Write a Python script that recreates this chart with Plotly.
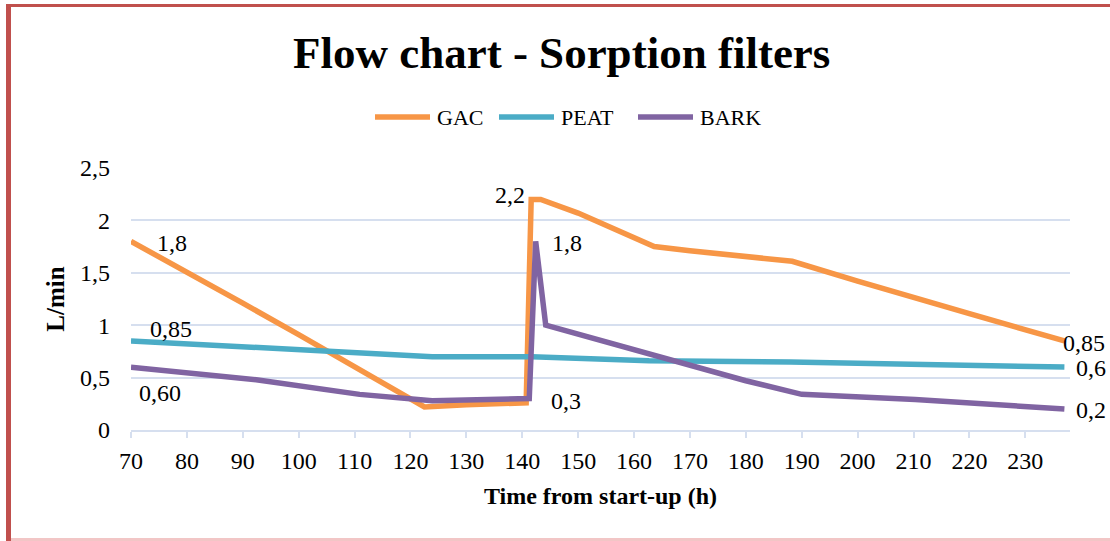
import plotly.graph_objects as go

# Flow chart - sorption filters
gac_x = [70, 80, 90, 100, 110, 122.5, 130, 140.7, 141.6, 143.3, 150, 163.6, 170, 180.5, 188.3, 200, 210, 220, 237]
gac_y = [1.80, 1.51, 1.21, 0.91, 0.60, 0.22, 0.24, 0.26, 2.20, 2.20, 2.07, 1.75, 1.71, 1.65, 1.61, 1.42, 1.27, 1.11, 0.85]

peat_x = [70, 90, 110, 123.9, 141.7, 162.7, 188, 204, 220, 237]
peat_y = [0.85, 0.79, 0.73, 0.70, 0.70, 0.66, 0.65, 0.63, 0.62, 0.60]

bark_x = [70, 80, 92.4, 110.9, 123.9, 141.25, 142.4, 144.2, 162.7, 172, 180, 190, 210.3, 237]
bark_y = [0.60, 0.55, 0.48, 0.34, 0.28, 0.30, 1.80, 1.00, 0.73, 0.60, 0.47, 0.34, 0.29, 0.20]

# data labels: (series, point index, text)
labels = [
    ("GAC", 0, "1,8"), ("GAC", 8, "2,2"), ("GAC", 18, "0,85"),
    ("PEAT", 0, "0,85"), ("PEAT", 9, "0,6"),
    ("BARK", 0, "0,60"), ("BARK", 6, "1,8"), ("BARK", 5, "0,3"), ("BARK", 13, "0,2"),
]
# label placement (xshift, yshift, xanchor)
label_pos = [
    (41, -2, "center"), (-21, 4, "center"), (-3, -2, "left"),
    (40, 12, "center"), (10, -1, "left"),
    (29, -26, "center"), (31, -2, "center"), (37, -2, "center"), (10, -1, "left"),
]

series = {"GAC": (gac_x, gac_y), "PEAT": (peat_x, peat_y), "BARK": (bark_x, bark_y)}
colors = {"GAC": "#F79646", "PEAT": "#4BACC6", "BARK": "#8064A2"}

FONT = "Liberation Serif"
W, H = 1110, 541
L, R, T, B = 131, 40, 168, 111

fig = go.Figure()
for name, (xs, ys) in series.items():
    fig.add_trace(go.Scatter(x=xs, y=ys, name=name, mode='lines',
                             line=dict(color=colors[name], width=5.5, shape='linear'),
                             hoverinfo='x+y'))

for (name, i, txt), (dx, dy, anc) in zip(labels, label_pos):
    xs, ys = series[name]
    fig.add_annotation(x=xs[i], y=ys[i], text=txt, showarrow=False,
                       xshift=dx, yshift=dy, xanchor=anc, yanchor='middle',
                       font=dict(family=FONT, size=24, color='#000000'))


def px_to_paper(px, py):
    return (px - L) / (W - L - R), (H - B - py) / (H - T - B)


# legend drawn like the Excel one (long line swatches)
legend_x = [375, 499, 638]   # left end of each swatch, pixels
legend_py = 117
for name, lx in zip(series, legend_x):
    ax0, ay = px_to_paper(lx, legend_py)
    ax1, _ = px_to_paper(lx + 55, legend_py)
    fig.add_shape(type='line', xref='paper', yref='paper', x0=ax0, x1=ax1, y0=ay, y1=ay,
                  line=dict(color=colors[name], width=5.5), layer='above')
    tx, _ = px_to_paper(lx + 60, legend_py)
    fig.add_annotation(xref='paper', yref='paper', x=tx, y=ay, text=name, showarrow=False,
                       xanchor='left', yanchor='middle',
                       font=dict(family=FONT, size=22, color='#000000'))

# chart frame (red border left/top, faint line at bottom)
x0, y0 = px_to_paper(6, 4)
x1, y1 = px_to_paper(11, 541)
fig.add_shape(type='rect', xref='paper', yref='paper', x0=x0, x1=x1, y0=y1, y1=y0,
              fillcolor='#C0504D', line_width=0, layer='above')
x2, y2 = px_to_paper(1110, 7)
fig.add_shape(type='rect', xref='paper', yref='paper', x0=x0, x1=x2, y0=y2, y1=y0,
              fillcolor='#C0504D', line_width=0, layer='above')
x3, y3 = px_to_paper(11, 538)
x4, y4 = px_to_paper(1110, 541)
fig.add_shape(type='rect', xref='paper', yref='paper', x0=x3, x1=x4, y0=y4, y1=y3,
              fillcolor='#F2C6C6', line_width=0, layer='above')

fig.update_layout(
    width=W, height=H,
    margin=dict(l=L, r=R, t=T, b=B, pad=0),
    paper_bgcolor='white', plot_bgcolor='white',
    separators=', ',
    font=dict(family=FONT, size=24, color='#000000'),
    title=dict(text='<b>Flow chart - Sorption filters</b>', x=0.506, xref='container',
               xanchor='center', y=1 - 52 / H, yref='container', yanchor='middle',
               font=dict(family=FONT, size=45, color='#000000')),
    showlegend=False,
)

fig.update_xaxes(range=[70, 238], tick0=70, dtick=10, showgrid=False,
                 showline=True, linecolor='#D6DFEF', linewidth=2,
                 ticks='outside', ticklen=6, tickwidth=2, tickcolor='#D6DFEF',
                 ticklabelstandoff=2, zeroline=False,
                 tickfont=dict(family=FONT, size=24, color='#000000'),
                 title=dict(text='<b>Time from start-up (h)</b>', standoff=14,
                            font=dict(family=FONT, size=24, color='#000000')))
fig.update_yaxes(range=[0, 2.5], dtick=0.5, showgrid=True, gridcolor='#D6DFEF', gridwidth=2,
                 zeroline=False, showline=False, ticks='', ticklabelstandoff=20,
                 tickfont=dict(family=FONT, size=24, color='#000000'),
                 title=dict(text='<b>L/min</b>', standoff=8,
                            font=dict(family=FONT, size=25, color='#000000')))

# page margin off so the figure sits at the window's top-left corner
fig.write_html("out.html", config={'displayModeBar': False},
               post_script="document.body.style.margin='0';")
